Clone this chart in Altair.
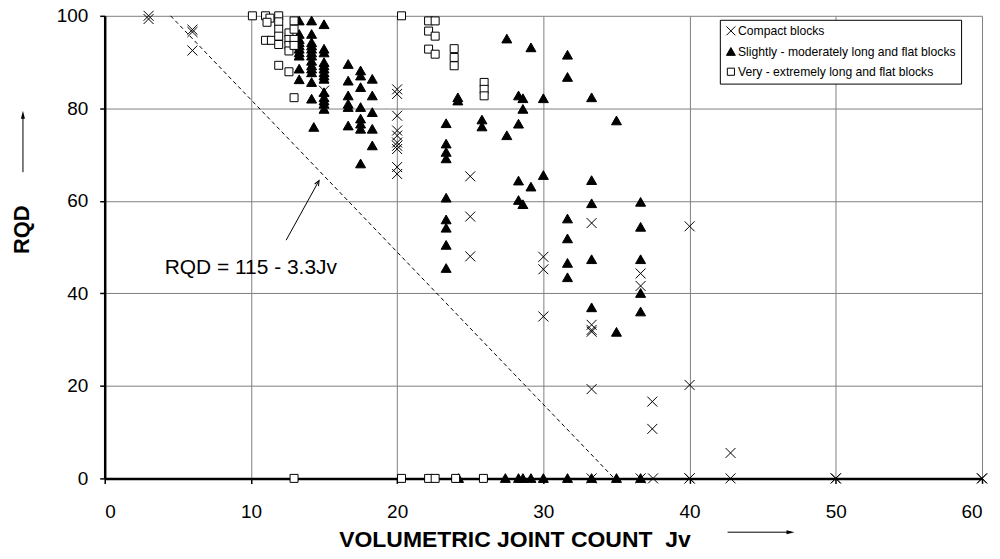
import altair as alt
import pandas as pd

FONT = "Liberation Sans"

# ---------------- data ----------------
cat_names = [
    "Compact blocks",
    "Slightly - moderately long and flat blocks",
    "Very - extremely long and flat blocks",
]

compact_x = [3, 3, 6, 6, 6, 15,
             20, 20, 20, 20, 20, 20, 20, 20, 20, 20,
             25, 25, 25, 30, 30, 30,
             33.3, 33.3, 33.3, 33.3, 33.3,
             36.65, 36.65, 37.45, 37.45, 40, 40, 42.8,
             33.3, 36.65, 37.5, 40, 40, 42.8, 50, 50, 60, 60]
compact_y = [100, 99.3, 97, 96.5, 92.5, 83.8,
             84.1, 83.1, 78.4, 75.2, 74.1, 72.6, 71.9, 71.2, 67.3, 65.8,
             65.3, 56.6, 48, 47.9, 45.2, 35,
             55.2, 33.2, 32.1, 31.7, 19.3,
             44.3, 41.6, 16.6, 10.7, 54.5, 20.2, 5.5,
             0, 0, 0, 0, 0, 0, 0, 0, 0, 0]

moderate_x = [13.3] * 10 + [14.15] * 13 + [14.3] + [15.0] * 14 + [16.65] * 6 + [17.5] * 8 + [18.3] * 5 \
    + [23.35] * 9 + [24.15] * 2 + [25.8] * 2 + [27.5] * 2 + [28.3] * 4 + [28.6] * 3 + [29.15] * 2 \
    + [30.0] * 2 + [31.65] * 6 + [33.3] * 5 + [35.0] * 2 + [36.65] * 5 \
    + [24.2, 27.4, 28.3, 28.6, 29.15, 30.0, 31.65, 33.3, 35.0, 36.65]
moderate_y = [98.9, 96.0, 94.9, 94.2, 93.5, 92.8, 92.0, 91.3, 88.5, 86.2,
              98.9, 96.0, 94.2, 93.5, 92.8, 92.0, 91.3, 90.2, 89.2, 88.5, 87.7, 85.6, 82.0,
              75.9,
              98.1, 92.8, 92.0, 89.9, 89.2, 88.5, 87.7, 87.0, 86.3, 83.4, 82.3, 81.6, 80.9, 79.8,
              89.5, 85.9, 82.7, 80.9, 80.2, 76.2,
              88.1, 87.0, 84.5, 80.2, 77.7, 76.6, 75.5, 68.0,
              86.3, 82.7, 79.1, 75.5, 71.9,
              76.7, 72.3, 70.5, 69.1, 60.6, 55.9, 54.1, 50.4, 45.4,
              82.3, 81.6,
              77.5, 76.0,
              95.0, 74.1,
              82.7, 76.6, 64.3, 60.1,
              82.1, 79.8, 59.2,
              93.1, 63.0,
              82.1, 65.5,
              91.5, 86.7, 56.1, 51.8, 46.5, 43.4,
              82.3, 64.4, 59.4, 47.3, 36.9,
              77.3, 31.6,
              59.7, 54.3, 47.3, 40.0, 36.0,
              0, 0, 0, 0, 0, 0, 0, 0, 0, 0]

very_x = [10.1, 11.0, 11.3, 11.1, 11.0, 11.4,
          11.9, 11.9, 11.9, 11.9, 11.9,
          12.6, 12.6, 12.6, 12.6,
          12.95, 12.95, 12.95, 12.95,
          11.9, 12.6, 12.95,
          20.3, 22.15, 22.6, 22.15, 22.6, 22.15, 22.6,
          23.9, 23.9, 23.9, 25.95, 25.95, 25.95,
          12.95, 20.3, 22.15, 22.6, 24.0, 25.9]
very_y = [100, 100, 99.5, 98.6, 94.7, 94.7,
          100, 98.7, 97.1, 95.6, 93.8,
          96.3, 94.9, 93.6, 92.4,
          98.9, 97.1, 94.9, 93.6,
          89.3, 87.9, 82.3,
          100, 98.9, 98.9, 96.7, 95.6, 92.8, 91.7,
          92.9, 91.0, 89.2, 85.6, 84.1, 82.7,
          0, 0, 0, 0, 0, 0]

# dashed relation line end points: RQD = 115 - 3.3Jv
rel_x = [4.5, 34.85]
rel_y = [100, 0]

label_text = ["RQD = 115 - 3.3Jv"]
label_x = [4.1]
label_y = [45.4]

# ---------------- tables ----------------
df = pd.concat([
    pd.DataFrame({"x": compact_x, "y": compact_y, "cat": cat_names[0]}),
    pd.DataFrame({"x": moderate_x, "y": moderate_y, "cat": cat_names[1]}),
    pd.DataFrame({"x": very_x, "y": very_y, "cat": cat_names[2]}),
], ignore_index=True)

rel_df = pd.DataFrame({"x": rel_x, "y": rel_y})
lab_df = pd.DataFrame({"x": label_x, "y": label_y, "t": label_text})

# annotation arrows (line segments) and heads
seg_df = pd.DataFrame({
    "x": [12.41, -5.59, 42.6],
    "y": [51.5, 66.2, -11.63],
    "x2": [14.66, -5.59, 46.9],
    "y2": [64.4, 78.6, -11.63],
})
head_fill_df = pd.DataFrame({"x": [-5.59, 46.9], "y": [78.6, -11.63], "a": [0, 90]})
head_open_df = pd.DataFrame({"x": [14.53], "y": [63.64], "a": [29]})

X_PATH = "M-1,-1L1,1M-1,1L1,-1"
TRI_PATH = "M0,-0.95L1,0.8L-1,0.8Z"
SQ_PATH = "M-0.8,-0.8L0.8,-0.8L0.8,0.8L-0.8,0.8Z"

xs = alt.Scale(domain=[0, 60], nice=False, zero=False)
ys = alt.Scale(domain=[0, 100], nice=False, zero=False)

xaxis = alt.Axis(
    values=[0, 10, 20, 30, 40, 50, 60], title="VOLUMETRIC JOINT COUNT\u00a0 Jv",
    grid=True, gridColor="#7f7f7f", gridWidth=1,
    domainColor="black", domainWidth=2.5, tickColor="black", tickWidth=1.5, tickSize=5,
    labelFont=FONT, labelFontSize=19, labelColor="black", labelPadding=19,
    titleFont=FONT, titleFontSize=23, titleFontWeight="bold", titleColor="black",
    titleX=411, titleY=61, titleAlign="center", titleBaseline="middle",
)
yaxis = alt.Axis(
    values=[0, 20, 40, 60, 80, 100], title="RQD",
    grid=True, gridColor="#7f7f7f", gridWidth=1,
    domainColor="black", domainWidth=2.5, tickColor="black", tickWidth=1.5, tickSize=5,
    labelFont=FONT, labelFontSize=19, labelColor="black", labelPadding=12,
    titleFont=FONT, titleFontSize=22, titleFontWeight="bold", titleColor="black",
    titleAngle=270, titleX=-83, titleY=214, titleAlign="center", titleBaseline="middle",
)

legend = alt.Legend(
    title=None, orient="none", legendX=617, legendY=4,
    strokeColor="black", fillColor="white", padding=5,
    labelFont=FONT, labelFontSize=12.2, labelColor="black", labelLimit=400, labelOffset=1,
    symbolSize=80, symbolStrokeColor="black", symbolStrokeWidth=1, rowPadding=7,
)

points = alt.Chart(df).mark_point(size=100, strokeWidth=1, opacity=1).encode(
    x=alt.X("x:Q", scale=xs, axis=xaxis),
    y=alt.Y("y:Q", scale=ys, axis=yaxis),
    shape=alt.Shape("cat:N", scale=alt.Scale(domain=cat_names, range=[X_PATH, TRI_PATH, SQ_PATH]), legend=legend),
    fill=alt.Fill("cat:N", scale=alt.Scale(domain=cat_names, range=["transparent", "black", "white"]), legend=legend),
    stroke=alt.Stroke("cat:N", scale=alt.Scale(domain=cat_names, range=["black", "black", "black"]), legend=legend),
)

rel_line = alt.Chart(rel_df).mark_line(color="black", strokeWidth=1, strokeDash=[4, 3]).encode(
    x=alt.X("x:Q", scale=xs, axis=xaxis),
    y=alt.Y("y:Q", scale=ys, axis=yaxis),
)

label = alt.Chart(lab_df).mark_text(align="left", baseline="middle", font=FONT, fontSize=21, color="black").encode(
    x=alt.X("x:Q", scale=xs, axis=xaxis),
    y=alt.Y("y:Q", scale=ys, axis=yaxis),
    text="t:N",
)

segs = alt.Chart(seg_df).mark_rule(color="black", strokeWidth=1).encode(
    x=alt.X("x:Q", scale=xs, axis=xaxis),
    y=alt.Y("y:Q", scale=ys, axis=yaxis),
    x2="x2:Q", y2="y2:Q",
)

heads_fill = alt.Chart(head_fill_df).mark_point(
    shape="M0,-1L0.5,1L-0.5,1Z", size=64, filled=True, color="black", opacity=1
).encode(
    x=alt.X("x:Q", scale=xs, axis=xaxis),
    y=alt.Y("y:Q", scale=ys, axis=yaxis),
    angle=alt.Angle("a:Q", scale=None),
)

heads_open = alt.Chart(head_open_df).mark_point(
    shape="M-0.55,0.3L0,-1L0.55,0.3", size=64, filled=False, color="black", strokeWidth=1, opacity=1
).encode(
    x=alt.X("x:Q", scale=xs, axis=xaxis),
    y=alt.Y("y:Q", scale=ys, axis=yaxis),
    angle=alt.Angle("a:Q", scale=None),
)

chart = alt.layer(rel_line, segs, heads_fill, heads_open, label, points).properties(
    width=880, height=464,
    autosize=alt.AutoSizeParams(type="none"),
    padding={"left": 97, "top": 7, "right": 10, "bottom": 72},
    background="white",
).configure_view(strokeWidth=0)

chart.save("out.html", embed_options={"renderer": "svg", "actions": False})
